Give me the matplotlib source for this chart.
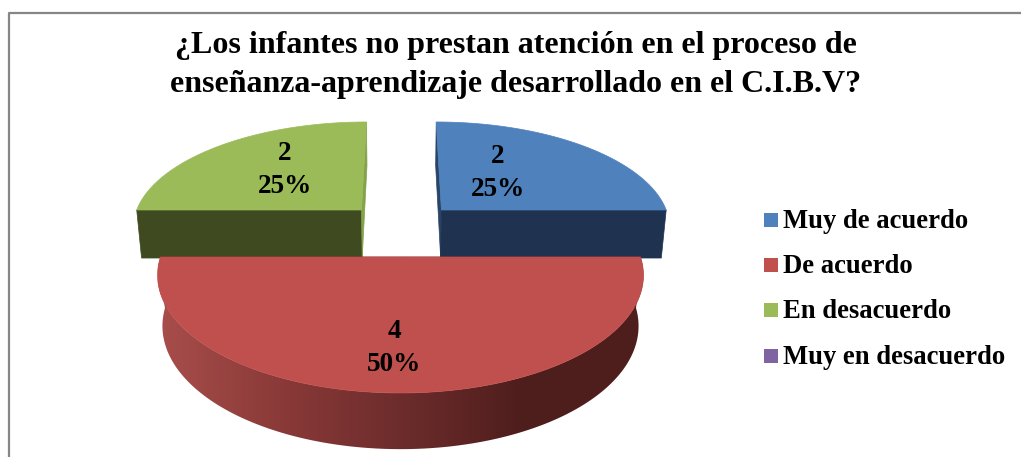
import numpy as np
import matplotlib
matplotlib.use('Agg')
import matplotlib.pyplot as plt
from matplotlib.colors import LinearSegmentedColormap
from matplotlib.patches import Polygon, Rectangle

title = '¿Los infantes no prestan atención en el proceso de\nenseñanza-aprendizaje desarrollado en el C.I.B.V?'
categories = ['Muy de acuerdo', 'De acuerdo', 'En desacuerdo', 'Muy en desacuerdo']
values = [2, 4, 2, 0]
percents = ['25%', '50%', '25%', '0%']

top_colors = ['#4f81bd', '#c0504d', '#9bbb59', '#8064a2']
cut_colors = ['#1f3350', '#5a2220', '#404a20', '#33284a']
edge_colors = ['#2a4468', '#5a2220', '#84a24a', '#33284a']

# projection of the pie plane to pixels
cx, cy = 400.5, 257
a, b, k = 114.9, 240, 0.155
h, m = 51.3, 0.02
explode = [(0.182, -0.4368), (0, 0), (-0.1735, -0.4368), (0, 0)]
label_pos = [(498, 173), (394, 348), (285, 170), None]


def project(u, v, bottom=False):
    d = 1 - k * v + (m if bottom else 0)
    x = cx + b * u / d
    y = cy + (a * v + (h if bottom else 0)) / d
    return np.column_stack([x, y])


def wedge_arc(start, end, off, bottom=False):
    th = np.radians(np.linspace(start, end, 200))
    return project(off[0] + np.sin(th), off[1] - np.cos(th), bottom)


fig = plt.figure(figsize=(10.21, 4.57), dpi=100)
ax = fig.add_axes([0, 0, 1, 1])
ax.set_xlim(0, 1021)
ax.set_ylim(457, 0)
ax.axis('off')

ax.plot([9, 9, 1021], [457, 13, 13], color='#868686', lw=1.6)

red_grad = LinearSegmentedColormap.from_list('side', ['#a84e4b', '#8a3a38', '#6d2c2c', '#4e1e1c', '#4f1e1c'])
angles = np.cumsum([0] + values) / sum(values) * 360

for i in [0, 2, 1]:
    start, end = angles[i], angles[i + 1]
    off = explode[i]
    centre = project(np.array([off[0]]), np.array([off[1]]))
    centre_b = project(np.array([off[0]]), np.array([off[1]]), True)
    top = wedge_arc(start, end, off)
    bot = wedge_arc(start, end, off, True)

    # cut faces first
    for end_pt, end_pb in [(top[0], bot[0]), (top[-1], bot[-1])]:
        horizontal = abs(end_pt[1] - centre[0, 1]) < 1
        col = cut_colors[i] if horizontal else edge_colors[i]
        ax.add_patch(Polygon([centre[0], end_pt, end_pb, centre_b[0]], fc=col, ec=col, lw=0.5))

    # outer wall, only the front one shows
    if i == 1:
        wall = Polygon(np.vstack([top, bot[::-1]]), transform=ax.transData, fc='none', ec='none')
        ax.add_patch(wall)
        im = ax.imshow(np.linspace(0, 1, 256).reshape(1, -1), cmap=red_grad, aspect='auto',
                       extent=[158, 643, 460, 250], zorder=1.5)
        im.set_clip_path(wall)

    ax.add_patch(Polygon(np.vstack([centre, top]), fc=top_colors[i], ec=top_colors[i], lw=0.5, zorder=2))

ax.set_xlim(0, 1021)
ax.set_ylim(457, 0)

ax.text(516, 65, title, ha='center', va='center', family='Liberation Serif', weight='bold',
        fontsize=23, linespacing=1.45, zorder=5)

for i, pos in enumerate(label_pos):
    if pos is None:
        continue
    ax.text(pos[0], pos[1], f'{values[i]}\n{percents[i]}', ha='center', va='center',
            family='Liberation Serif', weight='bold', fontsize=19.5, linespacing=1.4, zorder=5)

legend_y = [220, 265, 310, 356]
for name, col, y in zip(categories, top_colors, legend_y):
    ax.add_patch(Rectangle((764, y - 7), 14, 14, fc=col, ec='none'))
    ax.text(783, y + 8, name, ha='left', va='baseline', family='Liberation Serif', weight='bold', fontsize=19.2)

fig.savefig('out.png', dpi=100)
